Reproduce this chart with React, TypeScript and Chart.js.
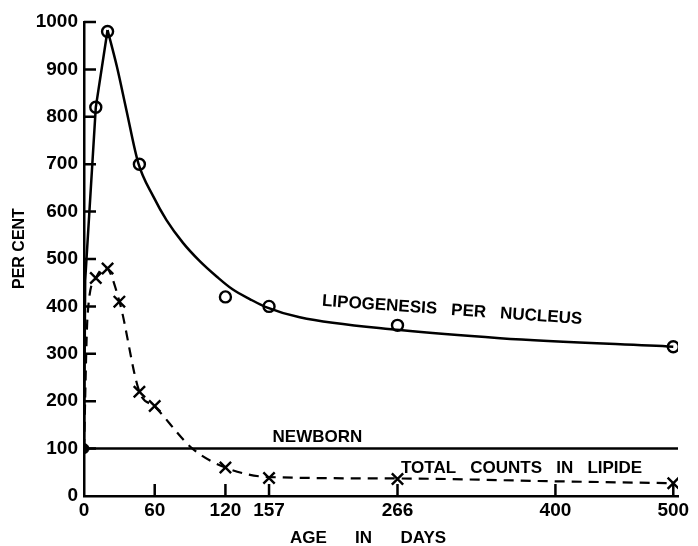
import React, { useEffect, useRef } from "react";
import { Chart, registerables } from "chart.js";

Chart.register(...registerables);

// ---- data ----
const X_TICKS = [0, 60, 120, 157, 266, 400, 500];
const Y_TICKS = [0, 100, 200, 300, 400, 500, 600, 700, 800, 900, 1000];

// measured points: lipogenesis per nucleus (open circles)
const lipoDays = [10, 20, 47, 120, 157, 266, 500];
const lipoValues = [820, 980, 700, 420, 400, 360, 315];

// drawn curve through lipogenesis: steep straight rise, then smooth decay
const lipoRiseDays = [0, 1, 10, 20];
const lipoRiseValues = [100, 455, 820, 983];
const lipoDecayDays = [20, 28, 36, 46, 59, 70, 84, 98, 113, 126, 141, 155, 183, 268, 353, 500];
const lipoDecayValues = [983, 905, 814, 703, 631, 582, 534, 496, 462, 436, 415, 398, 377, 350, 333, 315];

// measured points: total counts in lipide (crosses)
const countDays = [10, 20, 30, 47, 60, 120, 157, 266, 500];
const countValues = [460, 480, 410, 220, 190, 60, 38, 36, 27];

// drawn dashed curve through total counts
const countCurveDays = [0, 3, 10, 18, 30, 47, 60, 92, 120, 157, 266, 400, 500];
const countCurveValues = [100, 380, 460, 483, 411, 220, 189, 100, 60, 40, 37, 31, 27];

// newborn reference
const newbornDays = [0, 504];
const newbornValues = [100, 100];
const newbornPointDays = [0];
const newbornPointValues = [100];

const FONT = "'Liberation Sans', Arial, sans-serif";

const pts = (xs: number[], ys: number[]) => xs.map((d, i) => ({ x: d, y: ys[i] }));

const decorPlugin = {
  id: "decor",
  afterDraw(chart: any) {
    const { ctx, scales } = chart;
    const x = scales.x;
    const y = scales.y;
    const x0 = x.getPixelForValue(0);
    const y0 = y.getPixelForValue(0);
    ctx.save();
    ctx.strokeStyle = "#000";
    ctx.lineWidth = 2.5;
    ctx.lineCap = "butt";
    // inner tick marks
    ctx.beginPath();
    for (const v of Y_TICKS) {
      if (v === 0) continue;
      const py = y.getPixelForValue(v);
      ctx.moveTo(x0, py);
      ctx.lineTo(x0 + 12, py);
    }
    for (const v of X_TICKS) {
      if (v === 0) continue;
      const px = x.getPixelForValue(v);
      ctx.moveTo(px, y0);
      ctx.lineTo(px, y0 - 12);
    }
    ctx.stroke();

    ctx.fillStyle = "#000";
    ctx.font = `bold 17px ${FONT}`;
    ctx.textBaseline = "middle";
    ctx.textAlign = "left";
    ctx.fillText("NEWBORN", x.getPixelForValue(160), y.getPixelForValue(124));
    ctx.fillText("TOTAL   COUNTS   IN   LIPIDE", x.getPixelForValue(269), y.getPixelForValue(59));

    ctx.save();
    ctx.translate(x.getPixelForValue(202), y.getPixelForValue(411));
    ctx.rotate((4 * Math.PI) / 180);
    ctx.fillText("LIPOGENESIS   PER   NUCLEUS", 0, 0);
    ctx.restore();

    // axis titles
    ctx.textAlign = "center";
    ctx.fillText("AGE      IN      DAYS", x.getPixelForValue(241), chart.chartArea.bottom + 42);
    ctx.font = `bold 16px ${FONT}`;
    ctx.save();
    ctx.translate(chart.chartArea.left - 64, y.getPixelForValue(522));
    ctx.rotate(-Math.PI / 2);
    ctx.fillText("PER CENT", 0, 0);
    ctx.restore();

    ctx.restore();
  },
};

export default function App() {
  const ref = useRef<HTMLCanvasElement | null>(null);

  useEffect(() => {
    if (!ref.current) return;
    const solid = {
      showLine: true,
      borderColor: "#000",
      borderWidth: 2.5,
      pointRadius: 0,
    };
    const chart = new Chart(ref.current, {
      type: "scatter",
      data: {
        datasets: [
          { label: "Newborn", data: pts(newbornDays, newbornValues), ...solid },
          { label: "Lipogenesis rise", data: pts(lipoRiseDays, lipoRiseValues), ...solid },
          {
            label: "Lipogenesis decay",
            data: pts(lipoDecayDays, lipoDecayValues),
            ...solid,
            cubicInterpolationMode: "monotone",
          },
          {
            label: "Total counts curve",
            data: pts(countCurveDays, countCurveValues),
            showLine: true,
            cubicInterpolationMode: "monotone",
            borderColor: "#000",
            borderWidth: 2.2,
            borderDash: [10, 7],
            pointRadius: 0,
          },
          {
            label: "Lipogenesis per nucleus",
            data: pts(lipoDays, lipoValues),
            pointStyle: "circle",
            pointRadius: 5.5,
            pointBorderWidth: 2.4,
            pointBackgroundColor: "#fff",
            pointBorderColor: "#000",
          },
          {
            label: "Total counts in lipide",
            data: pts(countDays, countValues),
            pointStyle: "crossRot",
            pointRadius: 8,
            pointBorderWidth: 2.4,
            pointBorderColor: "#000",
          },
          {
            label: "Newborn point",
            data: pts(newbornPointDays, newbornPointValues),
            pointStyle: "circle",
            pointRadius: 5,
            pointBackgroundColor: "#000",
            pointBorderColor: "#000",
          },
        ],
      },
      options: {
        animation: false,
        responsive: false,
        layout: { padding: { top: 22, right: 20, left: 0, bottom: 0 } },
        plugins: {
          legend: { display: false },
          tooltip: { enabled: false },
        },
        elements: { line: { tension: 0 } },
        scales: {
          x: {
            type: "linear",
            min: 0,
            max: 504,
            afterBuildTicks: (s: any) => {
              s.ticks = X_TICKS.map((v) => ({ value: v }));
            },
            afterFit: (s: any) => {
              s.height = 50;
            },
            ticks: {
              autoSkip: false,
              maxRotation: 0,
              padding: 3,
              color: "#000",
              font: { family: FONT, size: 19, weight: "bold" },
              callback: (v: any) => String(v),
            },
            grid: { display: false, drawTicks: false },
            border: { display: true, color: "#000", width: 2.5 },
          },
          y: {
            type: "linear",
            min: 0,
            max: 1000,
            afterBuildTicks: (s: any) => {
              s.ticks = Y_TICKS.map((v) => ({ value: v }));
            },
            afterFit: (s: any) => {
              s.width = 84;
            },
            ticks: {
              padding: 6,
              color: "#000",
              font: { family: FONT, size: 19, weight: "bold" },
              callback: (v: any) => String(v),
            },
            grid: { display: false, drawTicks: false },
            border: { display: true, color: "#000", width: 2.5 },
          },
        },
      },
      plugins: [decorPlugin],
    });
    return () => chart.destroy();
  }, []);

  return (
    <div style={{ position: "absolute", left: 0, top: 0, width: 698, height: 546, background: "#fff" }}>
      <canvas ref={ref} width={698} height={546} style={{ display: "block" }} />
    </div>
  );
}
